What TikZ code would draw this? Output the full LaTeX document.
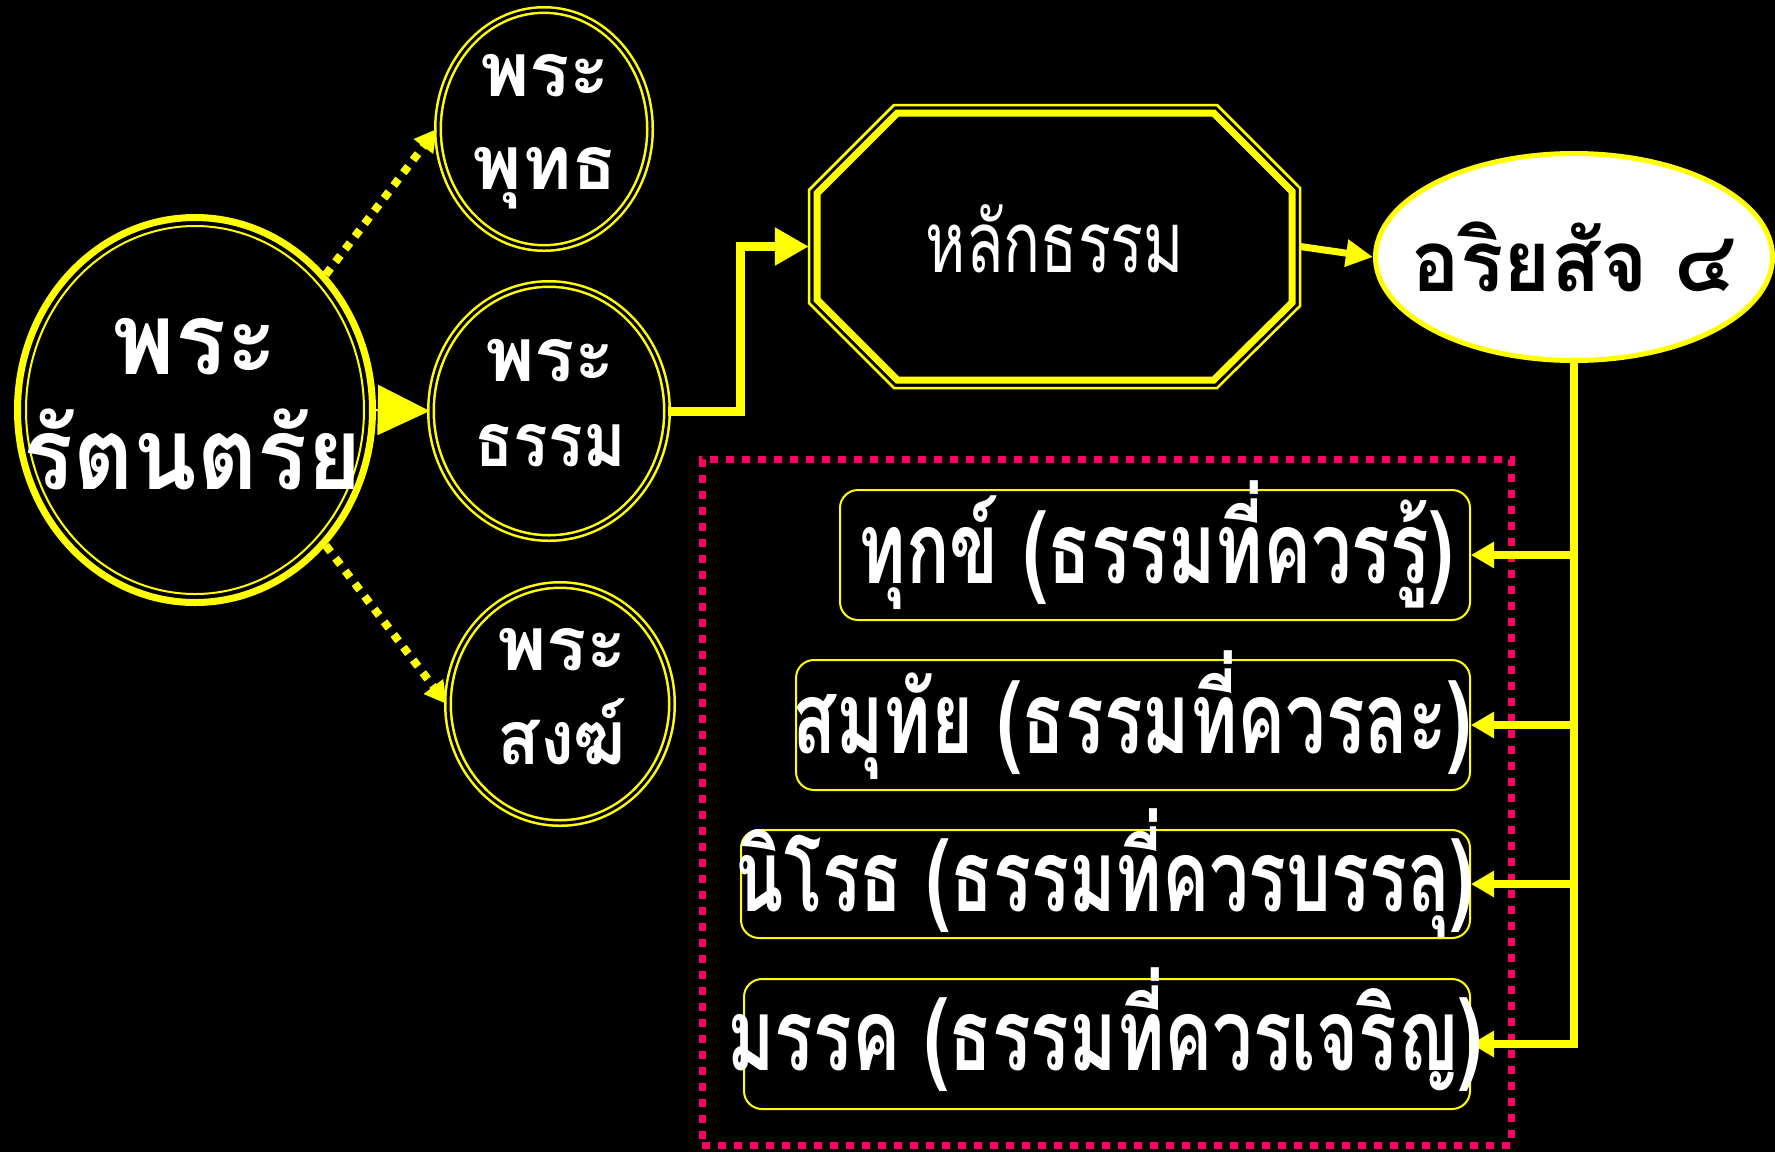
\documentclass[tikz,border=0pt]{standalone}
\usepackage{fontspec}
\usetikzlibrary{arrows.meta,shapes.geometric,calc}
\newfontfamily\thai[Script=Thai]{Loma}
\newfontfamily\thaic[Script=Thai,FakeStretch=0.72]{Loma}
\definecolor{yel}{HTML}{FFFF00}
\definecolor{pinkred}{HTML}{FF0066}
\newcommand\hsq[2]{\scalebox{#1}[1]{#2}}
\newcommand\octdraw[2]{%
  \pgfmathsetmacro\dd{#2}\pgfmathsetmacro\ee{0.414*#2}%
  \draw[#1] (809+\dd,190+\ee) -- (894+\ee,105+\dd) -- (1217-\ee,105+\dd) -- (1300-\dd,188+\ee) --
  (1300-\dd,306-\ee) -- (1217-\ee,388-\dd) -- (894+\ee,388-\dd) -- (809+\dd,303-\ee) -- cycle;}
\begin{document}
\begin{tikzpicture}[x=1pt,y=-1pt,
  lbl/.style={inner sep=0pt, anchor=base, text=white},
  circ/.style={ellipse, draw=yel, double=black, double distance=3pt, line width=2.5pt, inner sep=0pt},
  sbox/.style={rectangle, rounded corners=18pt, draw=yel, line width=2pt, inner sep=0pt},
  conn/.style={draw=yel, line width=7.5pt, -{Triangle[length=23pt,width=25pt]}},
  dots/.style={draw=yel, line width=8pt, dash pattern=on 8pt off 8pt, -{Triangle[length=22pt,width=23pt]}},
]
\fill[black] (0,0) rectangle (1775,1152);
\useasboundingbox (0,0) rectangle (1775,1152);

% nodes
\node[ellipse, draw=yel, line width=7pt, minimum width=355pt, minimum height=385pt, inner sep=0pt] (rt) at (195,410) {};
\draw[yel, line width=2pt] (rt.center) ellipse [x radius=169pt, y radius=184pt];
\node[circ, minimum width=212pt, minimum height=238pt] (pb) at (544,129) {};
\node[circ, minimum width=236pt, minimum height=254pt] (pd) at (549,411) {};
\node[circ, minimum width=224pt, minimum height=238pt] (ps) at (560,704) {};
\node[rectangle, draw=none, minimum width=491pt, minimum height=283pt, inner sep=0pt] (oct) at (1054.5,246.5) {};
\octdraw{yel, line width=2.5pt, line join=miter}{0}
\octdraw{yel, line width=7pt, line join=miter}{8}
\node[ellipse, fill=white, draw=yel, line width=5pt, minimum width=397pt, minimum height=207pt, inner sep=0pt] (ar) at (1574,257) {};

\node[rectangle, draw=pinkred, line width=7pt, dash pattern=on 8pt off 8pt, minimum width=809pt, minimum height=686pt, inner sep=0pt] (dbox) at (1106.5,802) {};

\node[sbox, minimum width=630pt, minimum height=130pt] (b1) at (1155,555) {};
\node[sbox, minimum width=674pt, minimum height=130pt] (b2) at (1133,725) {};
\node[sbox, minimum width=729pt, minimum height=108pt] (b3) at (1105.5,884) {};
\node[sbox, minimum width=726pt, minimum height=130pt] (b4) at (1107,1044) {};

% connectors
\draw[yel, line width=2pt, -{Triangle[length=52pt,width=50pt]}] (rt.east) -- (pd.west);
\draw[dots] (rt.46) -- (pb.west);
\draw[dots] (rt.-46) -- (ps.west);
\draw[yel, line width=9pt, line join=miter, -{Triangle[length=34pt,width=36pt]}] (pd.east) -- ++(72,0) |- (oct.west);
\draw[yel, line width=7pt, -{Triangle[length=27pt,width=26pt]}] (oct.east) -- (ar.west);
\draw[conn] (ar.south) |- (b1.east);
\draw[conn] (ar.south) |- (b2.east);
\draw[conn] (ar.south) |- (b3.east);
\draw[conn] (ar.south) |- (b4.east);

% texts
\node[lbl, font=\thai\bfseries\fontsize{100}{100}\selectfont] (t1a) at (195,374) {\hsq{0.95}{พระ}};
\node[lbl, font=\thai\bfseries\fontsize{100}{100}\selectfont] (t1b) at (193,489) {\hsq{0.93}{รัตนตรัย}};
\node[lbl, font=\thai\bfseries\fontsize{75}{75}\selectfont] (t2a) at (545,96) {พระ};
\node[lbl, font=\thai\bfseries\fontsize{75}{75}\selectfont] (t2b) at (545,189) {พุทธ};
\node[lbl, font=\thai\bfseries\fontsize{75}{75}\selectfont] (t3a) at (550,381) {พระ};
\node[lbl, font=\thai\bfseries\fontsize{75}{75}\selectfont] (t3b) at (550,466) {\hsq{0.86}{ธรรม}};
\node[lbl, font=\thai\bfseries\fontsize{75}{75}\selectfont] (t4a) at (562,670) {พระ};
\node[lbl, font=\thai\bfseries\fontsize{75}{75}\selectfont] (t4b) at (562,764) {\hsq{0.93}{สงฆ์}};
\node[lbl, font=\thaic\fontsize{85}{85}\selectfont] (t5) at (1055,272) {หลักธรรม};
\node[lbl, text=black, font=\thai\bfseries\fontsize{85}{85}\selectfont] (t6) at (1574,291) {\hsq{0.95}{อริยสัจ ๔}};
\node[lbl, font=\thaic\bfseries\fontsize{100}{100}\selectfont] (t7) at (1156,583) {ทุกข์ (ธรรมที่ควรรู้)};
\node[lbl, font=\thaic\bfseries\fontsize{100}{100}\selectfont] (t8) at (1132,753) {สมุทัย (ธรรมที่ควรละ)};
\node[lbl, font=\thaic\bfseries\fontsize{100}{100}\selectfont] (t9) at (1105,911) {\hsq{0.98}{นิโรธ (ธรรมที่ควรบรรลุ)}};
\node[lbl, font=\thaic\bfseries\fontsize{100}{100}\selectfont] (t10) at (1105,1070) {มรรค (ธรรมที่ควรเจริญ)};
\end{tikzpicture}
\end{document}
